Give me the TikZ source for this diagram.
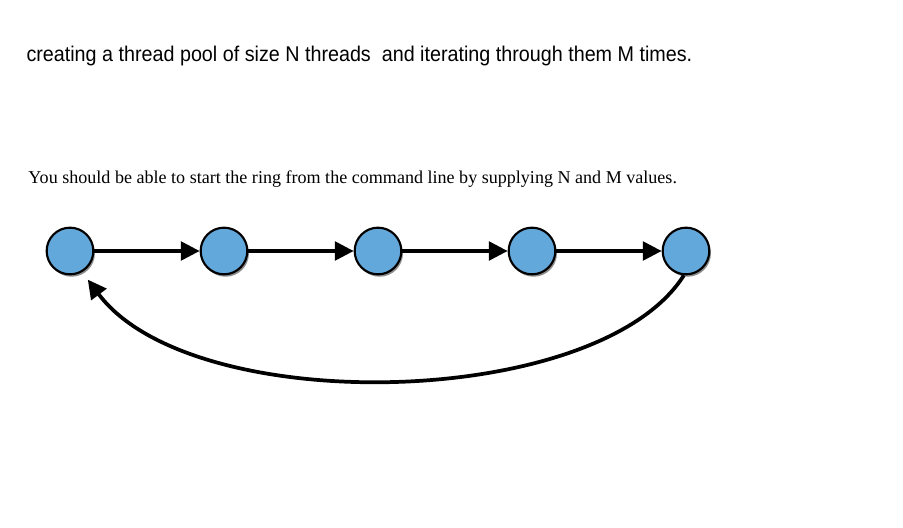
\documentclass[tikz,border=0pt]{standalone}
\usepackage{fontspec}
\setmainfont{Liberation Serif}
\newfontfamily\arialfont{Liberation Sans}
\usetikzlibrary{arrows.meta,shadows}
\definecolor{threadblue}{RGB}{99,168,219}
\tikzset{every picture/.style={line width=0.75pt}}
\tikzset{
  thread/.style={circle,draw=black,line width=1.6pt,fill=threadblue,minimum size=35pt,inner sep=0pt,
    drop shadow={shadow xshift=1.2pt,shadow yshift=-1.8pt,opacity=0.45,fill=black}},
  hop/.style={line width=2.4pt,-{Triangle[length=14pt,width=14pt]}},
  ringback/.style={line width=2.8pt,-{Triangle[length=14pt,width=14pt]},shorten >=7pt}
}
\begin{document}
\begin{tikzpicture}[x=0.75pt,y=0.75pt,yscale=-1,xscale=1]
\useasboundingbox (0,0) rectangle (903,528); %set diagram size 903 x 528

% Text Node
\node[anchor=base west,inner sep=0pt] (title) at (26,62) {\arialfont\fontsize{14.8}{17}\selectfont\scalebox{1}[1.08]{creating a thread pool of size N threads\ \ and iterating through them M times.}};
% Text Node
\node[anchor=base west,inner sep=0pt] (note) at (28,183) {\fontsize{13.55}{16}\selectfont You should be able to start the ring from the command line by supplying N and M values.};

%Shape: Circle [id:t1]
\node[thread] (t1) at (70,251) {};
%Shape: Circle [id:t2]
\node[thread] (t2) at (224,251) {};
%Shape: Circle [id:t3]
\node[thread] (t3) at (378,251) {};
%Shape: Circle [id:t4]
\node[thread] (t4) at (532,251) {};
%Shape: Circle [id:t5]
\node[thread] (t5) at (686,251) {};

%Straight Lines
\draw[hop] (t1) -- (t2);
\draw[hop] (t2) -- (t3);
\draw[hop] (t3) -- (t4);
\draw[hop] (t4) -- (t5);

%Curve Lines
\draw[ringback] (t5.265) .. controls (599,410) and (192,419) .. (t1.300);

\end{tikzpicture}
\end{document}
